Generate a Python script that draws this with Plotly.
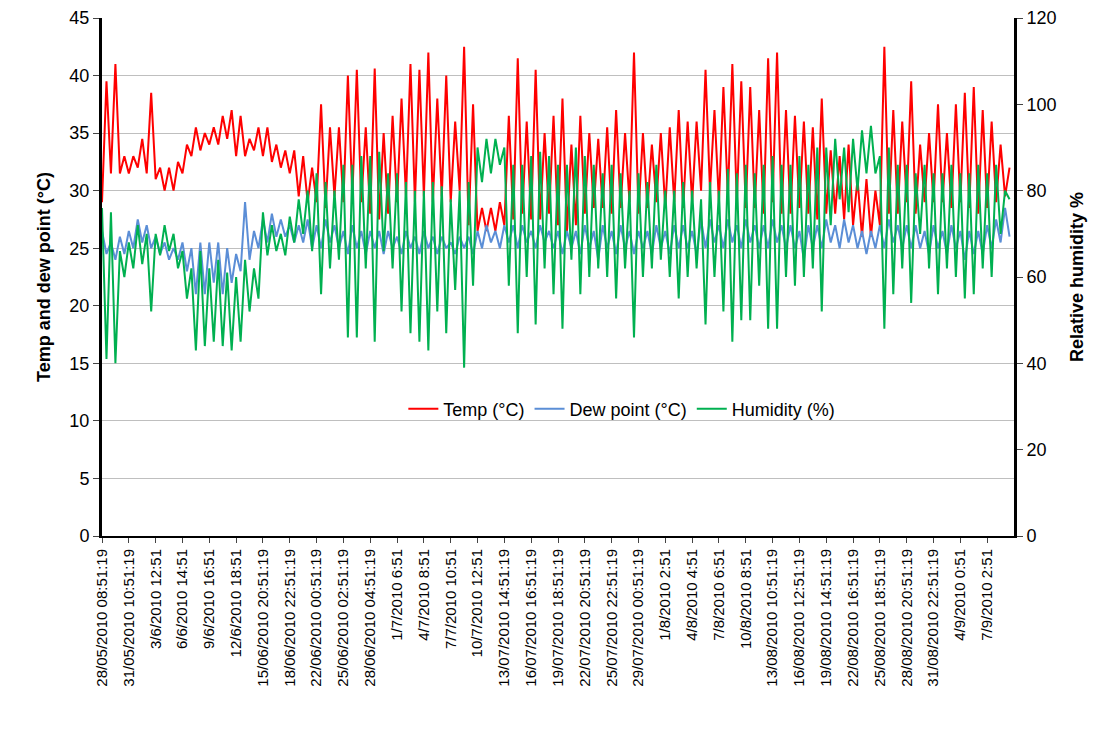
import plotly.graph_objects as go

# daily readings (one low and one high per day)
temp_hi = [39.5, 41, 33, 33, 34.5, 38.5, 32, 32, 32.5, 34, 35.5, 35, 35.5, 36.5, 37, 36.5, 34.5, 35.5, 35.5, 34,
           33.5, 33.5, 33, 32, 37.5, 35.5, 35.5, 40, 40.5, 35.5, 40.6, 35, 36.5, 38, 41, 40.5, 42, 38, 40, 36,
           42.5, 37.5, 28.5, 28.5, 29, 36.5, 41.5, 36, 40.5, 35, 36.5, 38, 34, 36.5, 35, 34.5, 35.5, 37, 35, 42,
           35, 34, 35, 35.5, 37, 36, 36, 40.5, 37, 39, 41, 39.5, 39, 37, 41.5, 42, 37, 36.5, 36, 35.5,
           38, 33.5, 33, 34, 31, 31, 30, 42.5, 37, 36, 39.5, 34, 35, 37.5, 35, 37.5, 38.5, 39, 37, 36,
           34, 32]
temp_lo = [29, 31.5, 31.5, 31.5, 32, 31.5, 31, 30, 30, 31.5, 33, 33.5, 34, 34, 34.5, 33, 33, 33.5, 33, 32.5,
           32, 31.5, 29.5, 29, 29, 28.5, 29.5, 29, 29.5, 29, 28, 27.5, 28, 29, 29.5, 29, 29.5, 29, 29.5, 29,
           30, 27, 26.5, 26.5, 26.5, 27, 27.5, 28, 27.5, 27.5, 28, 27, 26.5, 27, 28, 28.5, 28.5, 28, 28.5, 29,
           28, 28.5, 29, 28.5, 29, 28.5, 29, 30, 30, 29, 29.5, 29, 28.5, 28.5, 28, 29, 28, 28, 28.5, 28,
           27.5, 28, 28, 27.5, 27, 26, 26, 27, 28, 28, 29, 28, 29, 29, 29, 28.5, 29, 28.5, 28, 28.5,
           29, 29.5]
dew_lo = [24.5, 24, 24.5, 25, 25.5, 25, 24.5, 24, 24, 23, 21, 21, 22, 21, 22, 23, 24, 25, 25.5, 26,
          26, 25.5, 25.5, 25, 25, 25.5, 25, 24.5, 25, 24.5, 25, 24.5, 25, 24.5, 25, 24.5, 25, 24.5, 25, 24.5,
          25, 24.5, 25, 25.5, 25, 25.5, 25, 25.5, 25, 25.5, 25, 24.5, 25, 24.5, 25, 24, 25, 24.5, 25, 24.5,
          25, 24.5, 25, 24.5, 25, 25, 24.5, 25, 25.5, 25, 25.5, 25, 25.5, 25, 25, 25.5, 25, 25, 24, 25,
          25, 25.5, 25, 25.5, 25, 24.5, 25, 25, 25.5, 25, 25, 25, 24.5, 25, 24.5, 25, 24, 24.5, 24.5, 25,
          25.5, 26]
dew_hi = [26.5, 25.5, 26, 26.5, 27.5, 27, 26, 25.5, 25, 25.5, 25, 25.5, 25.5, 25.5, 25, 24.5, 29, 26.5, 27.5, 28,
          27.5, 27, 27, 27.5, 27, 27.5, 27, 26.5, 27, 26.5, 26.5, 26.5, 26.5, 26, 26.5, 26, 26.5, 26, 26, 25.5,
          26, 26, 26.5, 27, 26.5, 27, 27, 27, 26.5, 27, 26.5, 26.5, 26.5, 26.5, 27, 26.5, 27, 26.5, 27, 26.5,
          26.5, 26.5, 27, 26.5, 27, 27, 26.5, 27.5, 27.5, 27, 27.5, 27, 27.5, 27, 27, 27.5, 27, 27, 26.5, 27,
          27, 27.5, 27, 27.5, 27, 26.5, 26.5, 27, 27.5, 27, 27, 27, 26.5, 27, 26.5, 27, 26.5, 26.5, 26.5, 27,
          27.5, 28.5]
hum_hi = [76, 75, 66, 68, 72, 70, 70, 72, 70, 66, 62, 66, 62, 64, 61, 60, 64, 62, 75, 72,
          70, 74, 78, 80, 84, 82, 80, 86, 86, 88, 88, 89, 84, 84, 82, 80, 80, 82, 81, 78,
          80, 82, 90, 92, 92, 90, 86, 86, 88, 89, 88, 86, 86, 90, 88, 86, 84, 86, 84, 80,
          84, 82, 86, 80, 80, 82, 80, 78, 82, 80, 85, 84, 86, 84, 86, 88, 86, 86, 88, 86,
          90, 90, 92, 90, 92, 94, 95, 88, 90, 86, 86, 84, 86, 84, 84, 86, 84, 84, 86, 84,
          86, 80]
hum_lo = [41, 40, 60, 62, 63, 52, 65, 66, 62, 55, 43, 44, 45, 44, 43, 45, 52, 55, 65, 66,
          65, 68, 70, 66, 56, 62, 64, 46, 46, 62, 45, 66, 62, 52, 47, 45, 43, 52, 47, 57,
          39, 58, 82, 84, 86, 58, 47, 60, 49, 62, 56, 48, 64, 56, 60, 62, 60, 55, 62, 46,
          60, 62, 64, 60, 55, 60, 62, 49, 60, 52, 45, 50, 50, 58, 48, 48, 60, 58, 60, 62,
          52, 72, 78, 75, 80, 84, 84, 48, 56, 62, 54, 70, 62, 56, 62, 60, 55, 56, 62, 60,
          70, 78]

tick_labels = ["28/05/2010 08:51:19", "31/05/2010 10:51:19", "3/6/2010 12:51", "6/6/2010 14:51",
               "9/6/2010 16:51", "12/6/2010 18:51", "15/06/2010 20:51:19", "18/06/2010 22:51:19",
               "22/06/2010 00:51:19", "25/06/2010 02:51:19", "28/06/2010 04:51:19", "1/7/2010 6:51",
               "4/7/2010 8:51", "7/7/2010 10:51", "10/7/2010 12:51", "13/07/2010 14:51:19",
               "16/07/2010 16:51:19", "19/07/2010 18:51:19", "22/07/2010 20:51:19", "25/07/2010 22:51:19",
               "29/07/2010 00:51:19", "1/8/2010 2:51", "4/8/2010 4:51", "7/8/2010 6:51",
               "10/8/2010 8:51", "13/08/2010 10:51:19", "16/08/2010 12:51:19", "19/08/2010 14:51:19",
               "22/08/2010 16:51:19", "25/08/2010 18:51:19", "28/08/2010 20:51:19", "31/08/2010 22:51:19",
               "4/9/2010 0:51", "7/9/2010 2:51"]

# sample index: two readings per day (early morning, afternoon)
x = []
temp, dew, hum = [], [], []
for d in range(len(temp_hi)):
    x += [d, d + 0.5]
    temp += [temp_lo[d], temp_hi[d]]
    dew += [dew_hi[d], dew_lo[d]]
    hum += [hum_hi[d], hum_lo[d]]

fig = go.Figure()
fig.add_trace(go.Scatter(x=x, y=temp, mode='lines', name='Temp (°C)',
                         line=dict(color='#FF0000', width=2)))
fig.add_trace(go.Scatter(x=x, y=dew, mode='lines', name='Dew point (°C)',
                         line=dict(color='#5B8ED6', width=2)))
fig.add_trace(go.Scatter(x=x, y=hum, mode='lines', name='Humidity (%)', yaxis='y2',
                         line=dict(color='#00B050', width=2)))

font = 'Liberation Sans Narrow, Liberation Sans, sans-serif'
fig.update_layout(
    width=1116, height=740,
    margin=dict(l=94, r=110, t=10, b=212),
    paper_bgcolor='white', plot_bgcolor='white',
    font=dict(family=font, color='black'),
    showlegend=True,
    legend=dict(orientation='h', x=0.57, y=0.245, xanchor='center', yanchor='middle',
                font=dict(size=18), bgcolor='rgba(0,0,0,0)', traceorder='normal'),
    xaxis=dict(range=[0, 102], tickvals=[3 * i for i in range(len(tick_labels))], ticktext=tick_labels,
               tickangle=-90, tickfont=dict(size=15), showgrid=False, showline=True, automargin=False,
               linecolor='black', linewidth=2, ticks='outside', ticklen=5, zeroline=False),
    yaxis=dict(range=[0, 45], dtick=5, title=dict(text='<b>Temp and dew point (°C)</b>', font=dict(size=18)),
               tickfont=dict(size=18), showgrid=True, gridcolor='#BFBFBF', showline=True, automargin=False,
               linecolor='black', linewidth=3, ticks='outside', ticklen=6, zeroline=False),
    yaxis2=dict(range=[0, 120], dtick=20, overlaying='y', side='right', automargin=False,
                title=dict(text='<b>Relative humidity %</b>', font=dict(size=18)),
                tickfont=dict(size=18), showgrid=False, showline=True,
                linecolor='black', linewidth=3, ticks='outside', ticklen=6, zeroline=False),
)

fig.write_html("out.html")
